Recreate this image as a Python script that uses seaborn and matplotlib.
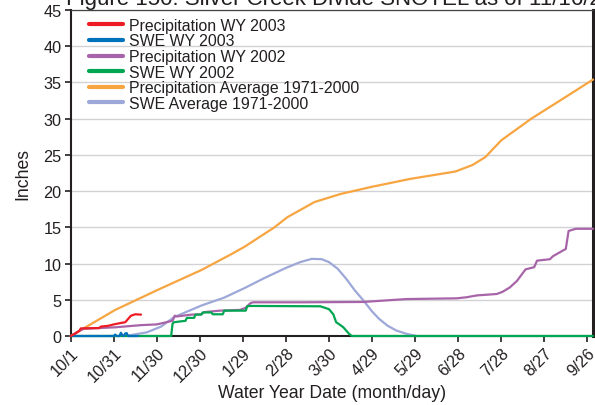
import matplotlib
matplotlib.use("Agg")
import matplotlib.pyplot as plt
import seaborn as sns
from matplotlib.lines import Line2D
from matplotlib.transforms import ScaledTranslation

# ---------------- data (day of water year, inches) ----------------
tick_days = [0, 30, 60, 90, 120, 150, 180, 210, 240, 270, 300, 330, 360]
tick_labels = ["10/1", "10/31", "11/30", "12/30", "1/29", "2/28", "3/30",
               "4/29", "5/29", "6/28", "7/28", "8/27", "9/26"]
y_ticks = [0, 5, 10, 15, 20, 25, 30, 35, 40, 45]

precip_avg_days = [0, 31, 61, 91, 112, 121, 142, 151, 170, 188, 210, 237,
                   268, 280, 289, 300, 321, 345, 364]
precip_avg_vals = [0, 3.6, 6.4, 9.1, 11.3, 12.3, 15.0, 16.4, 18.5, 19.6, 20.6,
                   21.7, 22.7, 23.6, 24.7, 27.0, 30.0, 33.0, 35.4]

swe_avg_days = [38, 53, 63, 72, 91, 107, 121, 135, 150, 160, 168, 175, 180,
                186, 192, 198, 204, 210, 215, 221, 227, 234, 241]
swe_avg_vals = [0, 0.5, 1.3, 2.6, 4.2, 5.3, 6.6, 8.0, 9.4, 10.2, 10.65, 10.6,
                10.2, 9.3, 7.9, 6.3, 4.9, 3.4, 2.35, 1.4, 0.75, 0.3, 0]

precip_2002_days = [0, 4, 9, 20, 31, 49, 60, 71, 72.5, 74, 84, 91, 93, 104,
                    118, 122, 125, 127, 160, 204, 234, 269, 276, 283, 297,
                    301, 306, 311, 314, 317, 323, 325, 334, 336, 343, 345,
                    347, 352, 364]
precip_2002_vals = [0, 0.5, 1.0, 1.1, 1.2, 1.5, 1.6, 2.1, 2.8, 2.7, 2.95, 3.0,
                    3.3, 3.5, 3.6, 3.9, 4.5, 4.65, 4.65, 4.7, 5.1, 5.2, 5.35,
                    5.6, 5.8, 6.1, 6.7, 7.6, 8.4, 9.2, 9.5, 10.4, 10.6, 11.0,
                    11.8, 12.0, 14.5, 14.8, 14.8]

swe_2002_days = [0, 70, 71, 72, 80, 81, 86, 87, 91, 92, 98, 99, 106, 107, 122,
                 123, 125, 174, 177, 180, 183, 185, 188, 190, 194, 196, 364]
swe_2002_vals = [0, 0, 1.7, 1.9, 2.1, 2.5, 2.5, 2.95, 2.95, 3.25, 3.25, 3.0,
                 3.0, 3.5, 3.5, 4.1, 4.15, 4.1, 3.9, 3.7, 3.0, 1.9, 1.5, 1.2,
                 0.3, 0, 0]

swe_2003_days = [0, 30, 31, 32, 34, 35, 36, 37, 38, 39, 40, 47]
swe_2003_vals = [0, 0, 0.2, 0, 0, 0.45, 0.1, 0, 0.35, 0.4, 0, 0]

precip_2003_days = [0, 3, 6, 7, 20, 21, 26, 30, 35, 38, 40, 42, 45, 49]
precip_2003_vals = [0, 0.3, 0.7, 1.05, 1.1, 1.3, 1.4, 1.6, 1.8, 1.9, 2.35,
                    2.8, 3.0, 2.95]

labels = ["Precipitation WY 2003", "SWE WY 2003", "Precipitation WY 2002",
          "SWE WY 2002", "Precipitation Average 1971-2000",
          "SWE Average 1971-2000"]
colors = ["#ed1c24", "#0072bc", "#a864a8", "#00a651", "#f7a541", "#9da8d9"]

# ---------------- figure ----------------
sns.set_theme(style="white")
plt.rcParams["font.family"] = ["Liberation Sans", "DejaVu Sans"]
text_color = "#231f20"

fig = plt.figure(figsize=(5.95, 4.06), dpi=100)
ax = fig.add_axes([70.7 / 595, 1 - 337 / 406, (593 - 70.7) / 595, (337 - 11) / 406])

draw = [
    (precip_avg_days, precip_avg_vals, 4),
    (swe_avg_days, swe_avg_vals, 5),
    (precip_2002_days, precip_2002_vals, 2),
    (swe_2002_days, swe_2002_vals, 3),
    (swe_2003_days, swe_2003_vals, 1),
    (precip_2003_days, precip_2003_vals, 0),
]
for z, (d, v, idx) in enumerate(draw):
    sns.lineplot(x=d, y=v, ax=ax, color=colors[idx], linewidth=1.6,
                 estimator=None, sort=False, zorder=3 + z * 0.1, clip_on=False)

ax.set_xlim(0, 364)
ax.set_ylim(0, 45)
ax.set_xticks(tick_days)
ax.set_xticklabels(tick_labels, rotation=45, ha="right", va="top",
                   rotation_mode="anchor", fontsize=11.7, color=text_color)
offset = ScaledTranslation(8 / 100, -4 / 100, fig.dpi_scale_trans)
for lab in ax.get_xticklabels():
    lab.set_transform(lab.get_transform() + offset)
ax.set_yticks(y_ticks)
ax.set_yticklabels([str(t) for t in y_ticks], fontsize=11.7, color=text_color)
ax.tick_params(axis="both", direction="out", length=4, width=1.2,
               color=text_color, bottom=True, left=True, pad=2.5)

ax.yaxis.grid(True, color="#d2d2d6", linewidth=1.0)
ax.xaxis.grid(False)
ax.set_axisbelow(True)

for side, lw, col in [("left", 1.5, text_color), ("bottom", 1.5, text_color),
                      ("right", 2.2, text_color), ("top", 0.9, "#444444")]:
    ax.spines[side].set_visible(True)
    ax.spines[side].set_linewidth(lw)
    ax.spines[side].set_color(col)

ax.set_xlabel("Water Year Date (month/day)", fontsize=12.7, color=text_color,
              labelpad=0)
ax.set_ylabel("Inches", fontsize=12.7, color=text_color, labelpad=9)

handles = [Line2D([], [], color=c, linewidth=3) for c in colors]
ax.legend(handles, labels, loc="upper left", bbox_to_anchor=(0.0356, 0.976),
          frameon=False, fontsize=11.4, handlelength=2.1, handletextpad=0.4,
          labelspacing=0.04, borderpad=0, borderaxespad=0,
          labelcolor=text_color)

fig.text(66 / 595, 1 - 5 / 406,
         "Figure 150. Silver Creek Divide SNOTEL as of 11/16/2002",
         fontsize=16.0, va="baseline", ha="left", color=text_color)

fig.savefig("out.png", dpi=100)
